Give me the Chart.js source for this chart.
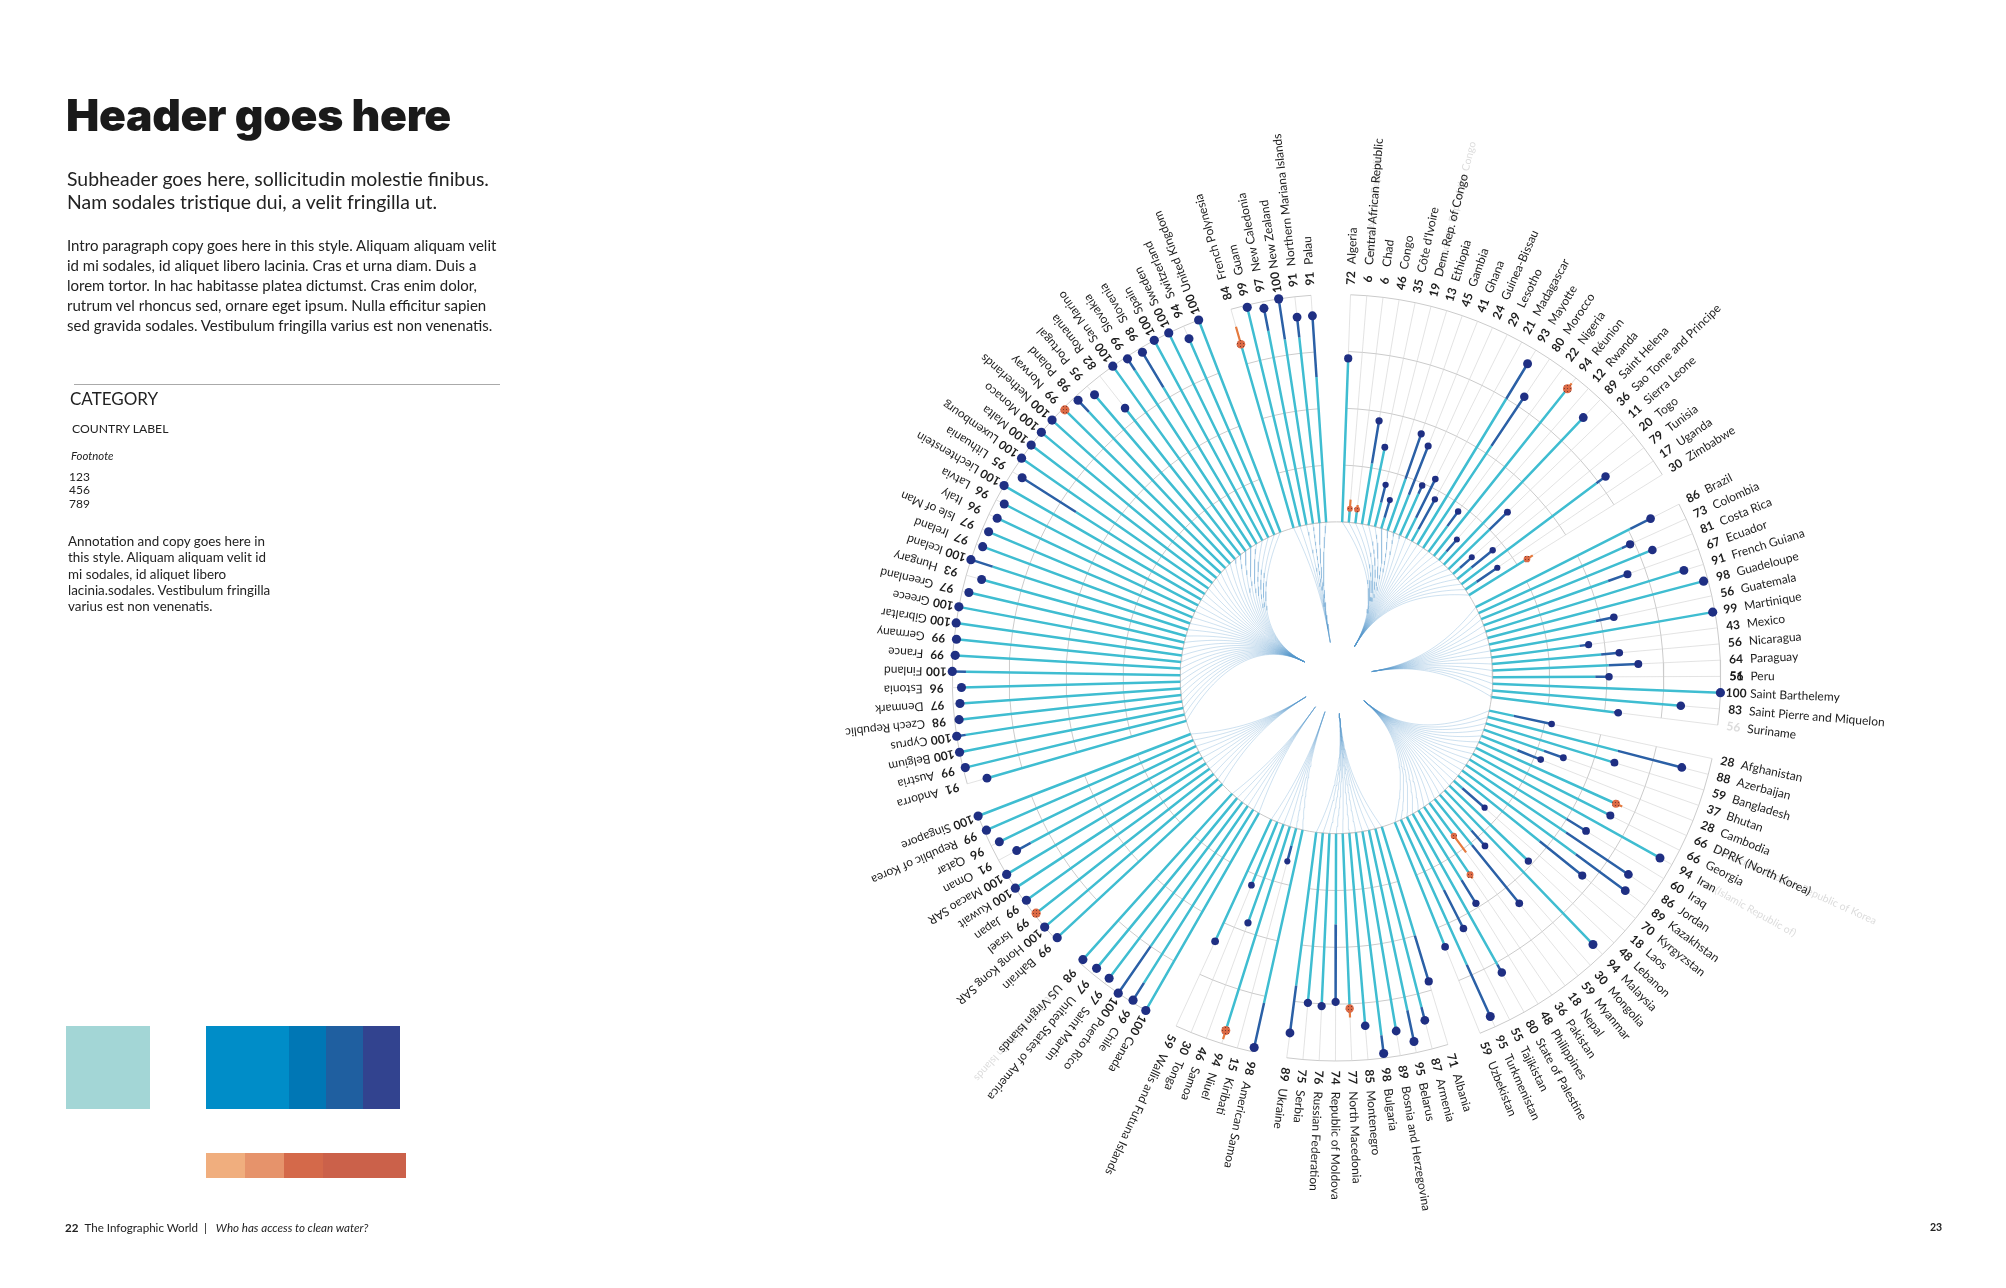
<!DOCTYPE html>
<html lang="en">
<head>
<meta charset="UTF-8">
<title>Who has access to clean water?</title>
<script src="https://cdn.jsdelivr.net/npm/chart.js"></script>
<style>
    html, body { margin: 0; padding: 0; background: #fff; }
    body { position: relative; width: 2006px; height: 1288px; overflow: hidden; font-family: Lato, sans-serif; color: #222; }
    canvas { position: absolute; left: 0; top: 0; }
    .t { position: absolute; white-space: pre; }
    h1.t { left: 66px; top: 87px; margin: 0; font-size: 44.4px; line-height: 56px; font-weight: 900; color: #1a1a1a; font-family: Inter, sans-serif; letter-spacing: -0.3px; }
    .sub { left: 67px; top: 167px; font-size: 19.4px; line-height: 23px; }
    .intro { left: 67px; top: 235px; font-size: 15px; line-height: 20px; }
    .rule { position: absolute; left: 74px; top: 384px; width: 426px; height: 1px; background: #aaa; }
    .cat { left: 70px; top: 388px; font-size: 17px; }
    .country { left: 72px; top: 421px; font-size: 12.2px; }
    .foot { left: 71px; top: 449px; font-size: 11.4px; font-style: italic; }
    .nums { left: 69px; top: 470px; font-size: 12px; line-height: 13.4px; }
    .note { left: 68px; top: 533px; font-size: 13.4px; line-height: 16.3px; }
    .pager { left: 65px; top: 1221px; font-size: 11.6px; }
    .pager b { font-weight: 700; margin-right: 6px; }
    .pagel { left: 1930px; top: 1221px; font-size: 10.5px; font-weight: 700; }
    .sw { position: absolute; }
</style>
</head>
<body>
<canvas id="wheel" width="2006" height="1288"></canvas>

<h1 class="t">Header goes here</h1>
<div class="t sub">Subheader goes here, sollicitudin molestie finibus.
Nam sodales tristique dui, a velit fringilla ut.</div>
<div class="t intro">Intro paragraph copy goes here in this style. Aliquam aliquam velit
id mi sodales, id aliquet libero lacinia. Cras et urna diam. Duis a
lorem tortor. In hac habitasse platea dictumst. Cras enim dolor,
rutrum vel rhoncus sed, ornare eget ipsum. Nulla efficitur sapien
sed gravida sodales. Vestibulum fringilla varius est non venenatis.</div>
<div class="rule"></div>
<div class="t cat">CATEGORY</div>
<div class="t country">COUNTRY LABEL</div>
<div class="t foot">Footnote</div>
<div class="t nums">123
456
789</div>
<div class="t note">Annotation and copy goes here in
this style. Aliquam aliquam velit id
mi sodales, id aliquet libero
lacinia.sodales. Vestibulum fringilla
varius est non venenatis.</div>

<div class="sw" style="left:66px;top:1026px;width:84px;height:83px;background:#a3d6d6"></div>
<div class="sw" style="left:206px;top:1026px;width:83px;height:83px;background:#008dc8"></div>
<div class="sw" style="left:289px;top:1026px;width:37px;height:83px;background:#0077b5"></div>
<div class="sw" style="left:326px;top:1026px;width:37px;height:83px;background:#1f5fa0"></div>
<div class="sw" style="left:363px;top:1026px;width:37px;height:83px;background:#32438f"></div>
<div class="sw" style="left:206px;top:1153px;width:39px;height:25px;background:#f0ae7e"></div>
<div class="sw" style="left:245px;top:1153px;width:39px;height:25px;background:#e6936b"></div>
<div class="sw" style="left:284px;top:1153px;width:39px;height:25px;background:#d4694a"></div>
<div class="sw" style="left:323px;top:1153px;width:83px;height:25px;background:#cb614a"></div>

<div class="t pager"><b>22</b>The Infographic World  |   <i>Who has access to clean water?</i></div>
<div class="t pagel">23</div>

<script>
// clockwise from the top, one entry per spoke
const categories = [
    "Algeria", "Central African Republic", "Chad", "Congo", "Côte d'Ivoire", "Dem. Rep. of Congo", "Ethiopia", "Gambia",
    "Ghana", "Guinea-Bissau", "Lesotho", "Madagascar", "Mayotte", "Morocco", "Nigeria", "Réunion", "Rwanda",
    "Saint Helena", "Sao Tome and Principe", "Sierra Leone", "Togo", "Tunisia", "Uganda", "Zimbabwe",
    "Brazil", "Colombia", "Costa Rica", "Ecuador", "French Guiana", "Guadeloupe", "Guatemala", "Martinique", "Mexico",
    "Nicaragua", "Paraguay", "Peru", "Saint Barthelemy", "Saint Pierre and Miquelon", "Suriname",
    "Afghanistan", "Azerbaijan", "Bangladesh", "Bhutan", "Cambodia", "DPRK (North Korea)", "Georgia", "Iran", "Iraq",
    "Jordan", "Kazakhstan", "Kyrgyzstan", "Laos", "Lebanon", "Malaysia", "Mongolia", "Myanmar", "Nepal", "Pakistan",
    "Philippines", "State of Palestine", "Tajikistan", "Turkmenistan", "Uzbekistan",
    "Albania", "Armenia", "Belarus", "Bosnia and Herzegovina", "Bulgaria", "Montenegro", "North Macedonia",
    "Republic of Moldova", "Russian Federation", "Serbia", "Ukraine",
    "American Samoa", "Kiribati", "Niuel", "Samoa", "Tonga", "Wallis and Futuna Islands",
    "Canada", "Chile", "Puerto Rico", "Saint Martin", "United States of America", "US Virgin Islands",
    "Bahrain", "Hong Kong SAR", "Israel", "Japan", "Kuwait", "Macao SAR", "Oman", "Qatar", "Republic of Korea", "Singapore",
    "Andorra", "Austria", "Belgium", "Cyprus", "Czech Republic", "Denmark", "Estonia", "Finland", "France", "Germany",
    "Gibraltar", "Greece", "Greenland", "Hungary", "Iceland", "Ireland", "Isle of Man", "Italy", "Latvia", "Liechtenstein",
    "Lithuania", "Luxembourg", "Malta", "Monaco", "Netherlands", "Norway", "Poland", "Portugal", "Romania", "San Marino",
    "Slovakia", "Slovenia", "Spain", "Sweden", "Switzerland", "United Kingdom",
    "French Polynesia", "Guam", "New Caledonia", "New Zealand", "Northern Mariana Islands", "Palau"
];
const groupSizes = [24, 15, 24, 11, 6, 6, 10, 36, 6];

// the printed number, where the dot sits
const dotValues = [
    72, 6, 6, 46, 35, 19, 13, 45, 41, 24, 29, 21, 93, 80, 22, 94, 12, 89, 36, 11, 20, 79, 17, 30,
    86, 73, 81, 67, 91, 98, 56, 99, 43, 56, 64, 51, 100, 83, 56,
    28, 88, 59, 37, 28, 66, 66, 94, 60, 86, 89, 70, 18, 48, 94, 30, 59, 18, 36, 48, 80, 55, 95, 59,
    71, 87, 95, 89, 98, 85, 77, 74, 76, 75, 89,
    98, 15, 94, 46, 30, 59,
    100, 99, 100, 97, 97, 98,
    99, 100, 99, 99, 100, 100, 91, 96, 99, 100,
    91, 99, 100, 100, 98, 97, 96, 100, 99, 99, 100, 100, 97, 93, 100, 97, 97, 96, 96, 100,
    95, 100, 100, 100, 100, 99, 98, 95, 82, 100, 99, 98, 100, 100, 94, 100,
    84, 99, 97, 100, 91, 91
];
// the other end of the coloured segment: below the dot is dark blue, above it is orange
const otherValues = [
    72, 10, 8, 27, 35, 11, 5, 24, 18, 20, 10, 6, 75, 54, 14, 97, 5, 89, 25, 4, 8, 74, 6, 33,
    76, 69, 79, 58, 91, 98, 48, 99, 39, 48, 51, 45, 100, 83, 54,
    11, 59, 57, 28, 17, 69, 64, 94, 50, 53, 62, 46, 5, 47, 94, 21, 26, 27, 38, 36, 76, 36, 70, 59,
    50, 81, 81, 89, 90, 85, 81, 40, 76, 75, 68,
    78, 8, 98, 46, 30, 59,
    100, 90, 75, 97, 97, 98,
    99, 100, 100, 99, 100, 100, 84, 96, 99, 100,
    91, 99, 100, 96, 98, 95, 96, 94, 97, 99, 100, 100, 96, 93, 90, 97, 97, 96, 96, 100,
    67, 100, 100, 100, 100, 100, 91, 95, 82, 100, 93, 80, 100, 100, 94, 100,
    92, 99, 87, 82, 82, 64
];
const ringValues = [0, 25, 50, 75, 100];

// pale full names left behind the short labels in the original artwork
const ghostNames = {
    "Central African Republic": "Central African Republic",
    "Dem. Rep. of Congo": "Democratic Rep. of the Congo",
    "DPRK (North Korea)": "Democratic People's Republic of Korea",
    "Iran": "Iran (Islamic Republic of)",
    "US Virgin Islands": "United States Virgin Islands"
};

const PX = 2.29;               // pixels per percentage point
const CX = 1338, CY = 678;     // wheel centre on the page
const HOLE = 157 / PX;         // value 0 sits on the inner circle
const START = 2.1, STEP = 2.43, GAP = 2.65;

const bearings = [];
const groupOf = [];
{
    let a = START, i = 0;
    groupSizes.forEach((n, g) => {
        for (let k = 0; k < n; k++, i++) { bearings.push(a); groupOf.push(g); a += STEP; }
        a += GAP;
    });
}

function polar(bearing, radius) {
    const t = bearing * Math.PI / 180;
    return { x: Math.sin(t) * radius, y: Math.cos(t) * radius };
}
const at = (i, v) => polar(bearings[i], HOLE + v);
const BREAK = { x: NaN, y: NaN };

function segments(test, from, to) {
    const pts = [];
    categories.forEach((c, i) => {
        if (test(i)) pts.push(at(i, from(i)), at(i, to(i)), BREAK);
    });
    return pts;
}

const teal = segments(() => true, () => 0, i => Math.min(dotValues[i], otherValues[i]));
const dark = segments(i => otherValues[i] < dotValues[i], i => otherValues[i], i => dotValues[i]);
const orange = segments(i => otherValues[i] > dotValues[i], i => dotValues[i], i => otherValues[i]);
const spokes = segments(() => true, () => 0, () => 100);

const rings = [];
ringValues.forEach(v => {
    categories.forEach((c, i) => {
        rings.push(at(i, v));
        if (groupOf[i + 1] !== groupOf[i]) rings.push(BREAK);
    });
});
// the inner circle closes across the gaps
const innerCircle = [];
for (let b = 0; b <= 360; b += 2) innerCircle.push(polar(b, HOLE));

// petals: each spoke sweeps in a curve to the tip on the middle bearing of its group
const petals = [];
{
    let first = 0;
    groupSizes.forEach(n => {
        const mid = (bearings[first] + bearings[first + n - 1]) / 2;
        for (let i = first; i < first + n; i++) {
            const p0 = polar(bearings[i], HOLE);
            const p1 = polar((bearings[i] + mid) / 2, 120 / PX);
            const p2 = polar(mid, 85 / PX);
            const p3 = polar(mid, 36 / PX);
            for (let s = 0; s <= 30; s++) {
                const u = s / 30, w = 1 - u;
                petals.push({
                    x: w*w*w*p0.x + 3*w*w*u*p1.x + 3*w*u*u*p2.x + u*u*u*p3.x,
                    y: w*w*w*p0.y + 3*w*w*u*p1.y + 3*w*u*u*p2.y + u*u*u*p3.y
                });
            }
            petals.push(BREAK);
        }
        first += n;
    });
}

const isOrange = i => otherValues[i] > dotValues[i];
const dotRadius = v => 2.8 + v / 100 * 1.8;
const blueDots = categories.map((c, i) => i).filter(i => !isOrange(i));
const orangeDots = categories.map((c, i) => i).filter(isOrange);

function stipple() {
    const p = document.createElement('canvas');
    p.width = p.height = 3;
    const c = p.getContext('2d');
    c.fillStyle = '#dc6a45';
    c.fillRect(0, 0, 3, 3);
    c.fillStyle = '#7a3a30';
    c.fillRect(1, 1, 1, 1);
    return c.createPattern(p, 'repeat');
}

const line = (data, color, width, order) => ({
    data, showLine: true, borderColor: color, borderWidth: width, pointRadius: 0, spanGaps: false, order, tension: 0
});

const wheelLabels = {
    id: 'wheelLabels',
    afterDatasetsDraw(chart) {
        const ctx = chart.ctx;
        const ox = chart.scales.x.getPixelForValue(0), oy = chart.scales.y.getPixelForValue(0);
        const put = (i, text, from, style, align) => {
            ctx.save();
            ctx.translate(ox, oy);
            ctx.rotate((bearings[i] - 90) * Math.PI / 180);
            ctx.font = style.font;
            ctx.fillStyle = style.color;
            ctx.textAlign = align;
            ctx.textBaseline = 'middle';
            ctx.fillText(text, from, 0);
            ctx.restore();
        };
        const num = { font: '700 12px Lato', color: '#1d1d1d' };
        const nam = { font: '12px Lato', color: '#1d1d1d' };
        const pale = { font: '10.5px Lato', color: '#dcdcdc' };
        categories.forEach((c, i) => {
            if (ghostNames[c]) put(i, ghostNames[c], 414, pale, 'left');
        });
        categories.forEach((c, i) => {
            const faint = c === 'Suriname';
            put(i, String(dotValues[i]), 400, faint ? { font: num.font, color: '#dcdcdc' } : num, 'center');
            put(i, c, 414, nam, 'left');
            if (c === 'Peru') put(i, '56', 400, num, 'center');   // Suriname's number overprints here
        });
    }
};

new Chart(document.getElementById('wheel'), {
    type: 'scatter',
    data: {
        datasets: [
            {
                data: orangeDots.map(i => at(i, dotValues[i])),
                pointRadius: orangeDots.map(i => dotRadius(dotValues[i])),
                pointBackgroundColor: stipple(), pointBorderWidth: 0, order: 1
            },
            {
                data: blueDots.map(i => at(i, dotValues[i])),
                pointRadius: blueDots.map(i => dotRadius(dotValues[i])),
                pointBackgroundColor: '#1f2f83', pointBorderWidth: 0, order: 2
            },
            line(orange, '#e57a3e', 2.2, 3),
            line(dark, '#2b60a6', 2.5, 4),
            line(teal, '#3fbdd1', 2.5, 5),
            line(petals, 'rgba(85,150,205,0.42)', 0.7, 6),
            line(innerCircle, '#c8c8c8', 1, 7),
            line(rings, '#cbcbcb', 1, 8),
            line(spokes, '#dcdcdc', 0.8, 9)
        ]
    },
    options: {
        responsive: false,
        animation: false,
        events: [],
        layout: { padding: 0 },
        plugins: { legend: { display: false }, tooltip: { enabled: false } },
        scales: {
            x: { type: 'linear', display: false, min: -CX / PX, max: (2006 - CX) / PX },
            y: { type: 'linear', display: false, min: -(1288 - CY) / PX, max: CY / PX }
        }
    },
    plugins: [wheelLabels]
});
</script>
</body>
</html>
